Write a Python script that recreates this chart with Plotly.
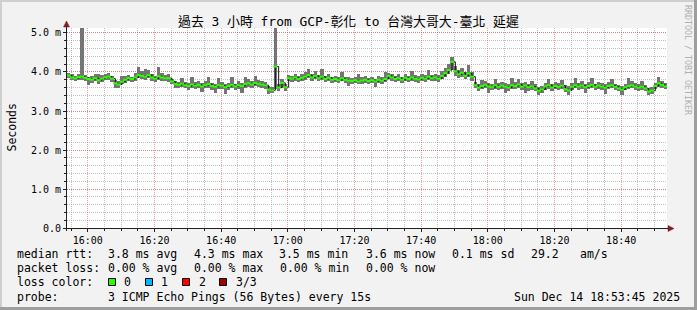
import pandas as pd
import plotly.graph_objects as go

# ---------------- data ----------------
median_ms = [
    3.91, 3.86, 3.84, 3.87, 3.88, 3.85, 3.82, 3.80, 3.84, 3.79,
    3.83, 3.86, 3.88, 3.83, 3.71, 3.68, 3.75, 3.80, 3.84, 3.82,
    3.86, 3.92, 3.90, 3.88, 3.92, 3.86, 3.83, 3.89, 3.86, 3.84,
    3.84, 3.76, 3.69, 3.67, 3.70, 3.66, 3.64, 3.68, 3.65, 3.67,
    3.63, 3.66, 3.69, 3.64, 3.62, 3.66, 3.65, 3.61, 3.64, 3.67,
    3.63, 3.66, 3.64, 3.69, 3.71, 3.68, 3.72, 3.70, 3.68, 3.66,
    3.55, 3.53, 4.14, 3.60, 3.72, 3.61, 3.84, 3.83, 3.86, 3.82,
    3.85, 3.88, 3.92, 3.86, 3.90, 3.84, 3.88, 3.82, 3.85, 3.80,
    3.82, 3.79, 3.84, 3.80, 3.78, 3.77, 3.79, 3.76, 3.78, 3.80,
    3.77, 3.79, 3.76, 3.80, 3.78, 3.82, 3.90, 3.86, 3.82, 3.84,
    3.80, 3.85, 3.82, 3.86, 3.83, 3.81, 3.85, 3.83, 3.88, 3.84,
    3.86, 3.83, 3.90, 3.97, 4.05, 4.26, 4.02, 3.94, 3.98, 3.90,
    3.96, 3.88, 3.66, 3.60, 3.64, 3.67, 3.63, 3.61, 3.66, 3.62,
    3.65, 3.63, 3.60, 3.66, 3.64, 3.68, 3.62, 3.65, 3.61, 3.63,
    3.58, 3.52, 3.55, 3.63, 3.66, 3.60, 3.64, 3.62, 3.65, 3.56,
    3.53, 3.62, 3.66, 3.63, 3.65, 3.61, 3.64, 3.67, 3.62, 3.65,
    3.63, 3.60, 3.64, 3.66, 3.62, 3.58, 3.55, 3.61, 3.64, 3.66,
    3.63, 3.60, 3.62, 3.58, 3.50, 3.52, 3.64, 3.71, 3.67, 3.63,
]
high_ms = [
    3.97, 3.94, 3.90, 3.95, 5.30, 3.92, 3.88, 3.90, 3.95, 3.95,
    3.92, 3.95, 3.97, 3.90, 3.80, 3.76, 3.90, 3.90, 3.93, 3.88,
    3.98, 4.12, 4.02, 4.08, 4.05, 3.95, 3.90, 4.12, 3.97, 3.92,
    3.95, 3.82, 3.76, 3.75, 3.85, 3.74, 3.72, 3.86, 3.74, 3.76,
    3.72, 3.76, 3.86, 3.72, 3.70, 3.84, 3.74, 3.70, 3.73, 3.86,
    3.70, 3.76, 3.72, 3.86, 3.82, 3.76, 3.90, 3.79, 3.76, 3.74,
    3.64, 3.62, 5.30, 3.70, 3.82, 3.70, 3.92, 3.90, 3.95, 3.90,
    3.96, 4.00, 4.08, 3.94, 4.02, 3.92, 4.08, 3.90, 3.95, 3.88,
    3.90, 3.86, 4.00, 3.88, 3.86, 3.84, 3.88, 3.95, 3.86, 3.90,
    3.84, 3.88, 3.83, 3.90, 3.86, 4.00, 3.98, 3.94, 3.90, 3.95,
    3.88, 3.96, 3.90, 4.02, 3.92, 3.89, 3.95, 3.92, 4.05, 3.93,
    3.96, 3.92, 4.02, 4.10, 4.20, 4.39, 4.15, 4.05, 4.10, 4.00,
    4.18, 4.00, 3.74, 3.70, 3.80, 3.78, 3.72, 3.70, 3.82, 3.72,
    3.74, 3.72, 3.69, 3.84, 3.74, 3.82, 3.72, 3.75, 3.70, 3.78,
    3.68, 3.62, 3.65, 3.72, 3.82, 3.70, 3.75, 3.71, 3.80, 3.66,
    3.64, 3.72, 3.84, 3.72, 3.76, 3.70, 3.74, 3.84, 3.70, 3.74,
    3.72, 3.70, 3.74, 3.82, 3.70, 3.66, 3.64, 3.70, 3.85, 3.76,
    3.72, 3.70, 3.78, 3.66, 3.60, 3.62, 3.72, 3.86, 3.78, 3.72,
]
low_ms = [
    3.84, 3.79, 3.76, 3.80, 3.80, 3.77, 3.66, 3.73, 3.76, 3.70,
    3.75, 3.79, 3.80, 3.75, 3.58, 3.60, 3.68, 3.73, 3.76, 3.74,
    3.78, 3.84, 3.82, 3.80, 3.84, 3.78, 3.74, 3.80, 3.78, 3.76,
    3.75, 3.68, 3.60, 3.58, 3.62, 3.58, 3.55, 3.60, 3.56, 3.58,
    3.48, 3.58, 3.60, 3.55, 3.45, 3.56, 3.57, 3.44, 3.55, 3.58,
    3.54, 3.57, 3.47, 3.60, 3.62, 3.60, 3.63, 3.61, 3.60, 3.57,
    3.44, 3.46, 3.56, 3.52, 3.60, 3.52, 3.76, 3.75, 3.78, 3.74,
    3.77, 3.80, 3.84, 3.78, 3.82, 3.76, 3.80, 3.74, 3.78, 3.72,
    3.74, 3.71, 3.76, 3.72, 3.64, 3.69, 3.71, 3.68, 3.70, 3.72,
    3.69, 3.71, 3.62, 3.72, 3.70, 3.74, 3.82, 3.78, 3.74, 3.76,
    3.72, 3.77, 3.74, 3.78, 3.75, 3.73, 3.77, 3.75, 3.80, 3.76,
    3.78, 3.75, 3.82, 3.88, 3.94, 4.05, 3.90, 3.84, 3.88, 3.82,
    3.86, 3.78, 3.58, 3.52, 3.56, 3.58, 3.46, 3.53, 3.57, 3.54,
    3.56, 3.45, 3.52, 3.57, 3.56, 3.59, 3.54, 3.47, 3.52, 3.55,
    3.50, 3.40, 3.47, 3.55, 3.57, 3.52, 3.56, 3.54, 3.56, 3.48,
    3.42, 3.54, 3.58, 3.55, 3.57, 3.45, 3.56, 3.59, 3.54, 3.57,
    3.55, 3.44, 3.56, 3.58, 3.54, 3.50, 3.42, 3.53, 3.56, 3.58,
    3.55, 3.52, 3.54, 3.50, 3.40, 3.44, 3.56, 3.62, 3.60, 3.56,
]
times = pd.date_range("2025-12-14 15:54:15", periods=len(median_ms), freq="60s")

y_tick_vals = [0, 1, 2, 3, 4, 5]
y_tick_text = ["0.0", "1.0 m", "2.0 m", "3.0 m", "4.0 m", "5.0 m"]

title_text = "過去 3 小時 from GCP-彰化 to 台灣大哥大-臺北 延遲"
row_labels = ["median rtt:", "packet loss:", "loss color:", "probe:"]
rtt_stats = ["3.8 ms avg", "4.3 ms max", "3.5 ms min", "3.6 ms now", "0.1 ms sd", "29.2", "am/s"]
loss_stats = ["0.00 % avg", "0.00 % max", "0.00 % min", "0.00 % now"]
loss_names = ["0", "1", "2", "3/3"]
loss_colors = ["#26ff00", "#00b8ff", "#ff0000", "#a10000"]
probe_text = "3 ICMP Echo Pings (56 Bytes) every 15s"
stamp_text = "Sun Dec 14 18:53:45 2025"
watermark = "RRDTOOL / TOBI OETIKER"

# ---------------- geometry helpers ----------------
W, H = 697, 310
L, R, T, B = 67, 667, 28, 228


def xp(px):
    return (px - L) / (R - L)


def yp(py):
    return (B - py) / (B - T)


MONO = "DejaVu Sans Mono, Noto Sans CJK TC, monospace"

fig = go.Figure()

# smoke (min..max of pings)
fig.add_trace(go.Bar(
    x=times, y=[h - l for h, l in zip(high_ms, low_ms)], base=low_ms,
    width=60000, marker=dict(color="#747474", line=dict(width=0)),
    hoverinfo="skip", showlegend=False,
))
# dark connector of medians
fig.add_trace(go.Scatter(
    x=times, y=median_ms, mode="lines",
    line=dict(color="#111111", width=1, shape="hv"),
    hoverinfo="skip", showlegend=False,
))
# median (loss colour 0)
fig.add_trace(go.Scatter(
    x=times, y=median_ms, mode="markers",
    marker=dict(symbol="line-ew", size=3, line=dict(color="#2cff00", width=2)),
    showlegend=False,
))

MINOR_GRID = "rgba(143,143,143,0.55)"
MAJOR_GRID = "rgba(222,79,79,0.55)"

fig.update_layout(
    width=W, height=H,
    margin=dict(l=L, r=W - R, t=T, b=H - B),
    paper_bgcolor="#f2f2f2", plot_bgcolor="#ffffff",
    bargap=0, showlegend=False,
    font=dict(family=MONO, color="#000000"),
    xaxis=dict(
        type="date",
        range=["2025-12-14 15:53:45", "2025-12-14 18:53:45"],
        tickmode="linear", tick0="2025-12-14 16:00:00", dtick=1200000,
        tickformat="%H:%M", tickfont=dict(family=MONO, size=10),
        ticks="outside", ticklen=3, tickcolor="#1f1f1f",
        showgrid=True, gridcolor=MAJOR_GRID, griddash="1px,1px", gridwidth=1,
        minor=dict(dtick=300000, tick0="2025-12-14 16:00:00", showgrid=True,
                   gridcolor=MINOR_GRID, griddash="1px,1px", ticks="outside",
                   ticklen=2, tickcolor="#1f1f1f"),
        zeroline=False, showline=False, fixedrange=True,
    ),
    yaxis=dict(
        range=[0, 5.128],
        tickmode="array", tickvals=y_tick_vals, ticktext=y_tick_text,
        tickfont=dict(family=MONO, size=10),
        ticks="outside", ticklen=3, tickcolor="#1f1f1f",
        showgrid=True, gridcolor=MAJOR_GRID, griddash="1px,1px", gridwidth=1,
        minor=dict(dtick=0.2, tick0=0, showgrid=True, gridcolor=MINOR_GRID,
                   griddash="1px,1px", ticks="outside", ticklen=2, tickcolor="#1f1f1f"),
        zeroline=False, showline=False, fixedrange=True,
    ),
)

shapes = []
# frame shading
shapes.append(dict(type="rect", xref="paper", yref="paper", x0=xp(0), x1=xp(W), y0=yp(0), y1=yp(2),
                   fillcolor="#cfcfcf", line=dict(width=0), layer="above"))
shapes.append(dict(type="rect", xref="paper", yref="paper", x0=xp(0), x1=xp(2), y0=yp(0), y1=yp(H),
                   fillcolor="#cfcfcf", line=dict(width=0), layer="above"))
shapes.append(dict(type="rect", xref="paper", yref="paper", x0=xp(0), x1=xp(W), y0=yp(H - 3), y1=yp(H),
                   fillcolor="#9e9e9e", line=dict(width=0), layer="above"))
shapes.append(dict(type="rect", xref="paper", yref="paper", x0=xp(W - 3), x1=xp(W), y0=yp(0), y1=yp(H),
                   fillcolor="#9e9e9e", line=dict(width=0), layer="above"))
# axes
shapes.append(dict(type="line", xref="paper", yref="paper", x0=xp(66.5), x1=xp(66.5), y0=yp(B + 3), y1=yp(24),
                   line=dict(color="#1f1f1f", width=1), layer="above"))
shapes.append(dict(type="line", xref="paper", yref="paper", x0=xp(63), x1=xp(671), y0=yp(B + 0.5), y1=yp(B + 0.5),
                   line=dict(color="#1f1f1f", width=1), layer="above"))
# arrows
ax, ay = 66.5, 21
shapes.append(dict(type="path", xref="paper", yref="paper",
                   path=f"M {xp(ax)} {yp(ay)} L {xp(ax - 3)} {yp(ay + 6)} L {xp(ax + 3)} {yp(ay + 6)} Z",
                   fillcolor="#7f1f1f", line=dict(color="#7f1f1f", width=0.5), layer="above"))
bx, by = 674, B + 0.5
shapes.append(dict(type="path", xref="paper", yref="paper",
                   path=f"M {xp(bx)} {yp(by)} L {xp(bx - 6)} {yp(by - 3)} L {xp(bx - 6)} {yp(by + 3)} Z",
                   fillcolor="#7f1f1f", line=dict(color="#7f1f1f", width=0.5), layer="above"))

ann = []


def text(px, py, s, size=11.5, anchor="left", color="#000000", angle=0):
    ann.append(dict(x=xp(px), y=yp(py), xref="paper", yref="paper", text=s, showarrow=False,
                    xanchor=anchor, yanchor="middle", textangle=angle, borderpad=0,
                    font=dict(family=MONO, size=size, color=color)))


# title / axis label / watermark
text(348, 21, title_text, size=12.9, anchor="center")
text(11, 127.5, "Seconds", size=11.5, anchor="center", angle=-90)
text(688, 60, watermark, size=8.3, anchor="center", color="#b0b0b0", angle=90)

# legend rows
rows_y = [254, 268, 282, 296.5]
for lab, yy in zip(row_labels, rows_y):
    text(16, yy, lab)
for s, px in zip(rtt_stats, [106.7, 192.7, 278, 365.3, 451, 530, 579.3]):
    text(px, rows_y[0], s)
for s, px in zip(loss_stats, [106.7, 193.3, 278.7, 365.3]):
    text(px, rows_y[1], s)
for name, col, bxp, tx in zip(loss_names, loss_colors, [108.5, 145.5, 182.5, 219.5], [123.3, 160, 198.3, 235]):
    shapes.append(dict(type="rect", xref="paper", yref="paper", x0=xp(bxp), x1=xp(bxp + 7), y0=yp(285.5), y1=yp(278.5),
                       fillcolor=col, line=dict(color="#000000", width=1), layer="above"))
    text(tx, rows_y[2], name)
text(106.7, rows_y[3], probe_text)
text(513.3, rows_y[3], stamp_text)

fig.update_layout(shapes=shapes, annotations=ann)
fig.write_html("out.html")
